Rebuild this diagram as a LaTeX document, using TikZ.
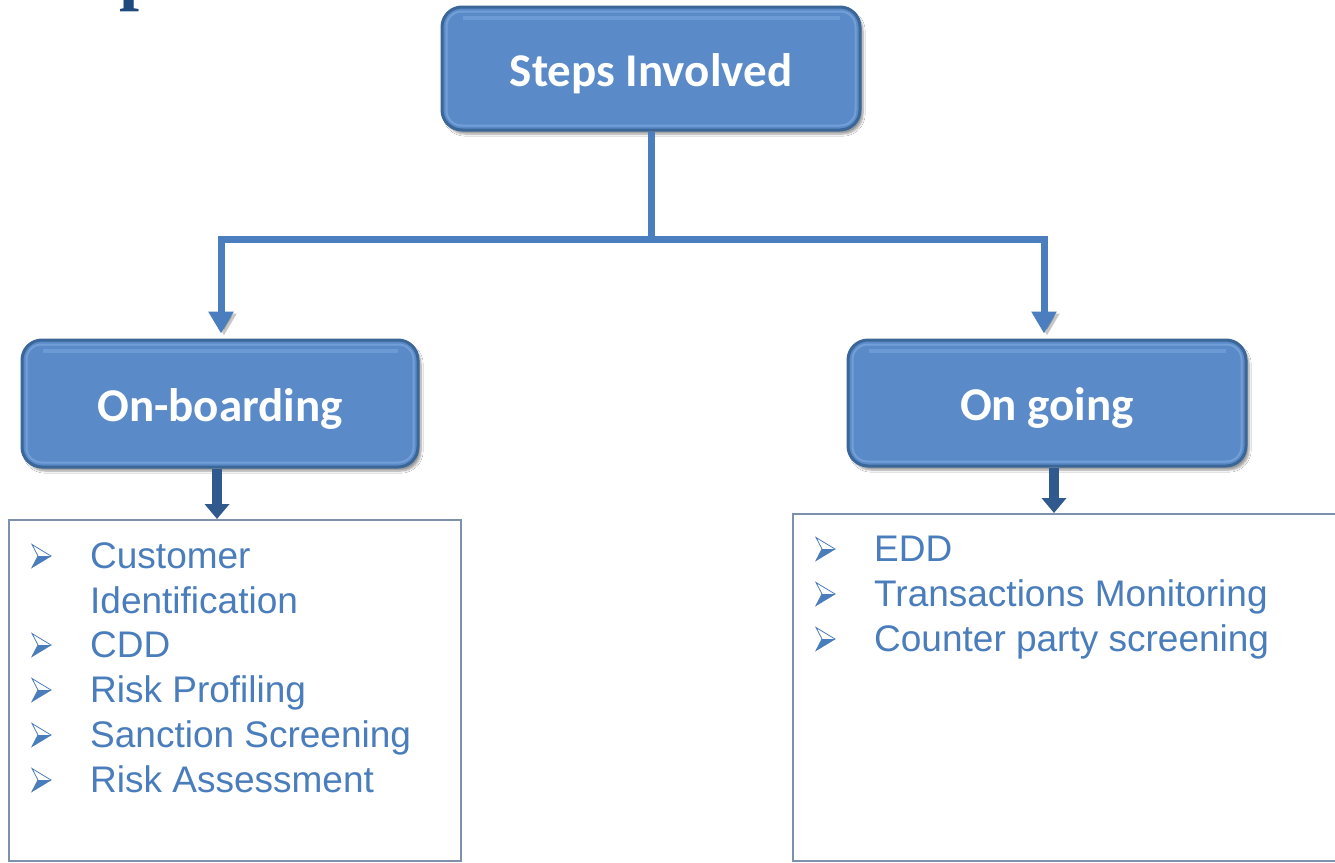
\documentclass[tikz,border=0pt]{standalone}
\usepackage{fontspec}
\setmainfont{Liberation Sans}
\newfontfamily\boxfont{Carlito}
\newfontfamily\headfont{Liberation Serif}
\usetikzlibrary{arrows.meta,shadows.blur,calc}

\definecolor{boxfill}{HTML}{5A8AC7}
\definecolor{boxrim}{HTML}{3B6698}
\definecolor{boxhi}{HTML}{78A5DD}
\definecolor{connblue}{HTML}{4A7EBE}
\definecolor{navyarrow}{HTML}{30598D}
\definecolor{listblue}{HTML}{4A7DBB}
\definecolor{frameblue}{HTML}{7D91AC}
\definecolor{titleblue}{HTML}{1F4A7E}

\tikzset{
  stepbox/.style={rounded corners=20pt, fill=boxfill, draw=boxrim, line width=3pt,
    text=white, font=\boxfont\bfseries\fontsize{47}{50}\selectfont,
    text height=35pt, text depth=0pt,
    blur shadow={shadow xshift=3pt, shadow yshift=-4pt, shadow blur steps=6, shadow opacity=40}},
  conn/.style={draw=connblue, line width=7pt, line join=miter,
    preaction={draw=black, opacity=0.22, transform canvas={shift={(3pt,-2pt)}}}},
  downarrow/.style={draw=navyarrow, line width=10pt,
    -{Triangle[width=24pt,length=15pt]}},
  listframe/.style={draw=frameblue, line width=2pt, fill=white, inner sep=0},
  item/.style={anchor=base west, inner sep=0, text=listblue,
    font=\fontsize{37}{43}\selectfont},
  bul/.pic={
    \fill[listblue] (6,0) -- (19,0) -- (0,11.5) -- cycle;
    \draw[listblue, line width=0.8pt, line join=miter]
      (0,-11.5) -- (19,0) -- (0,11.5) -- (6,0) -- cycle;
  }
}

\begin{document}
\begin{tikzpicture}[x=1pt,y=-1pt]
\useasboundingbox (0,0) rectangle (1335,862);
\fill[white] (0,0) rectangle (1335,862);

% descender of the page heading above
\node[anchor=base west, inner sep=0, text=titleblue,
  font=\headfont\bfseries\fontsize{72}{72}\selectfont] (heading) at (119,-3) {p};

% main boxes
\node[stepbox, minimum width=418pt, minimum height=123pt] (top) at (651,68.5) {Steps Involved};
\node[stepbox, minimum width=396pt, minimum height=127pt] (onb) at (220,403.5) {On-boarding};
\node[stepbox, minimum width=398pt, minimum height=126pt] (ong) at (1047,403) {On going};

% bevel highlight inside each box
\foreach \n in {top,onb,ong}{
  \draw[boxhi, line width=2pt, rounded corners=15pt, opacity=0.8]
    ($(\n.north west)+(6,6)$) rectangle ($(\n.south east)+(-6,-6)$);
  \draw[boxhi, line width=4pt, opacity=0.6]
    ($(\n.north west)+(22,12)$) -- ($(\n.north east)+(-22,12)$);
}

% branching connectors
\coordinate (barlevel) at (0,239);
\coordinate (j) at (top.south |- barlevel);
\draw[conn] (top.south) -- (j);
\draw[conn, -{Triangle[width=24pt,length=22pt]}] (j) -| ([xshift=1pt,yshift=5pt]onb.north);
\draw[conn, -{Triangle[width=24pt,length=22pt]}] (j) -| ([xshift=-3pt,yshift=5pt]ong.north);

% list frames
\node[listframe, anchor=north west, minimum width=452pt, minimum height=341pt] (onblist) at (8,519) {};
\node[listframe, anchor=north west, minimum width=550pt, minimum height=347pt] (onglist) at (792,513) {};

% arrows into the lists
\coordinate (a1) at ([xshift=-3pt]onb.south);
\coordinate (a2) at ([xshift=7pt]ong.south);
\draw[downarrow] (a1) -- (a1 |- onblist.north);
\draw[downarrow] (a2) -- (a2 |- onglist.north);

% on-boarding items
\pic at (32,556) {bul};
\node[item] (c1) at (90,568) {Customer};
\node[item] (c1b) at (90,613) {Identification};
\pic at (32,645) {bul};
\node[item] (c2) at (90,657) {CDD};
\pic at (32,690) {bul};
\node[item] (c3) at (90,702) {Risk Profiling};
\pic at (32,735) {bul};
\node[item] (c4) at (90,747) {Sanction Screening};
\pic at (32,780) {bul};
\node[item] (c5) at (90,792) {Risk Assessment};

% on-going items
\pic at (816,549) {bul};
\node[item] (g1) at (874,561) {EDD};
\pic at (816,594) {bul};
\node[item] (g2) at (874,606) {Transactions Monitoring};
\pic at (816,639) {bul};
\node[item] (g3) at (874,651) {Counter party screening};
\end{tikzpicture}
\end{document}
